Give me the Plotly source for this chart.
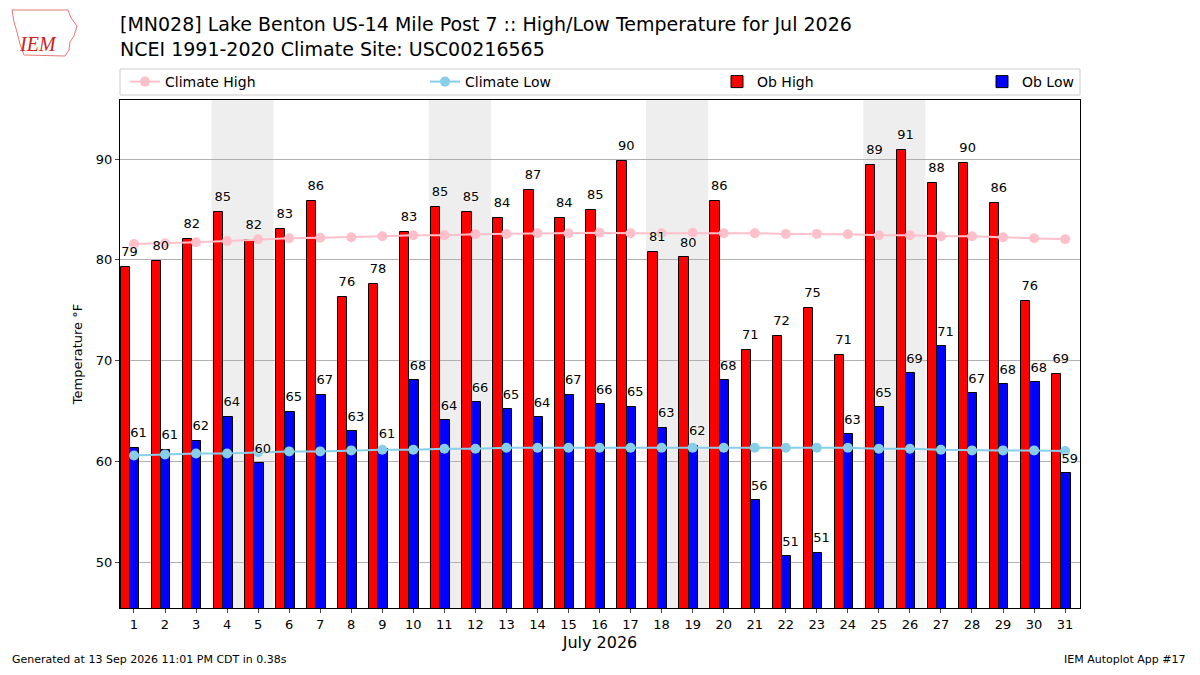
import datetime
import plotly.graph_objects as go

# day of month, July 2026
days = list(range(1, 32))

ob_high = [79.3, 79.9, 82.05, 84.75, 82.0, 83.1, 85.85, 76.35, 77.6, 82.75,
           85.25, 84.75, 84.15, 86.95, 84.15, 84.95, 89.8, 80.75, 80.25, 85.85,
           71.1, 72.45, 75.25, 70.56, 89.4, 90.9, 87.6, 89.6, 85.65, 75.95, 68.68]
ob_low = [61.4, 61.2, 62.1, 64.45, 59.85, 64.95, 66.66, 63.0, 61.3, 68.05,
          64.1, 65.87, 65.2, 64.4, 66.66, 65.7, 65.45, 63.37, 61.6, 68.1,
          56.17, 50.62, 51.0, 62.7, 65.4, 68.78, 71.45, 66.8, 67.7, 67.9, 58.84]
clim_high = [81.58, 81.65, 81.75, 81.88, 82.05, 82.15, 82.2, 82.25, 82.35, 82.45,
             82.45, 82.55, 82.58, 82.65, 82.65, 82.7, 82.65, 82.65, 82.7, 82.65,
             82.65, 82.58, 82.58, 82.55, 82.45, 82.45, 82.35, 82.35, 82.25, 82.15, 82.05]
clim_low = [60.62, 60.72, 60.82, 60.82, 60.95, 61.02, 61.02, 61.12, 61.18, 61.18,
            61.28, 61.28, 61.38, 61.38, 61.38, 61.38, 61.38, 61.38, 61.38, 61.38,
            61.38, 61.38, 61.38, 61.38, 61.28, 61.28, 61.18, 61.12, 61.12, 61.12, 61.05]

FONT = "DejaVu Sans"
label_font = dict(family=FONT, size=13, color="black",
                  shadow="0px 0px 2px white, 0px 0px 2px white")

# the page puts an 8px body margin round the figure, so the figure is sized
# 1184x659 and everything is placed relative to that
W, H = 1184, 659
L, R, T, B = 112, 112, 92, 59
PW, PH = W - L - R, H - T - B


def px(x):
    return (x - L) / PW


def py(y):
    return (H - B - y) / PH


fig = go.Figure()

# Ob High / Ob Low bars
fig.add_trace(go.Bar(
    x=[d - 0.275 for d in days], y=ob_high, width=0.3, name="Ob High",
    marker=dict(color="red", line=dict(color="black", width=1)),
    legend="legend3",
))
fig.add_trace(go.Bar(
    x=[d + 0.025 for d in days], y=ob_low, width=0.3, name="Ob Low",
    marker=dict(color="blue", line=dict(color="black", width=1)),
    legend="legend4",
))

# climatology lines
fig.add_trace(go.Scatter(
    x=days, y=clim_high, mode="lines+markers", name="Climate High",
    line=dict(color="pink", width=2), marker=dict(color="pink", size=10),
    legend="legend",
))
fig.add_trace(go.Scatter(
    x=days, y=clim_low, mode="lines+markers", name="Climate Low",
    line=dict(color="skyblue", width=2), marker=dict(color="skyblue", size=10),
    legend="legend2",
))

# value labels above the bars
fig.add_trace(go.Scatter(
    x=[d - 0.14 for d in days], y=[v + 1.4 for v in ob_high], mode="text",
    text=[f"{v:.0f}" for v in ob_high], textposition="middle center",
    textfont=label_font, showlegend=False, hoverinfo="skip", cliponaxis=False,
))
fig.add_trace(go.Scatter(
    x=[d + 0.15 for d in days], y=[v + 1.35 for v in ob_low], mode="text",
    text=[f"{v:.0f}" for v in ob_low], textposition="middle center",
    textfont=label_font, showlegend=False, hoverinfo="skip", cliponaxis=False,
))

# shade the weekends
for d in days:
    if datetime.date(2026, 7, d).weekday() == 5:
        fig.add_vrect(x0=d - 0.5, x1=d + 1.5, fillcolor="#eeeeee",
                      line_width=0, layer="below")

# legend frame
fig.add_shape(type="rect", xref="paper", yref="paper",
              x0=0, x1=1, y0=py(87), y1=py(61),
              line=dict(color="#cccccc", width=1), fillcolor="rgba(0,0,0,0)")


def legend_at(x):
    return dict(orientation="h", x=px(x), xanchor="left", y=py(74),
                yanchor="middle", font=dict(family=FONT, size=14),
                bgcolor="rgba(0,0,0,0)", itemclick=False)


fig.update_layout(
    width=W, height=H,
    margin=dict(l=L, r=R, t=T, b=B),
    paper_bgcolor="white", plot_bgcolor="white",
    font=dict(family=FONT, size=13, color="black"),
    barmode="overlay", bargap=0, showlegend=True,
    legend=legend_at(117), legend2=legend_at(417),
    legend3=legend_at(709), legend4=legend_at(974),
    xaxis=dict(
        range=[0.55, 31.48], tickmode="array", tickvals=days,
        ticktext=[str(d) for d in days], ticks="outside", ticklen=4,
        showgrid=False, showline=True, linecolor="black", mirror=True,
        zeroline=False, tickfont=dict(size=13),
        title=dict(text="July 2026", font=dict(size=16), standoff=6),
    ),
    yaxis=dict(
        range=[45.5, 95.85], tickvals=[50, 60, 70, 80, 90], ticks="outside",
        ticklen=4, showgrid=True, gridcolor="#b0b0b0", gridwidth=1,
        showline=True, linecolor="black", mirror=True, zeroline=False,
        tickfont=dict(size=13),
        title=dict(text="Temperature °F", font=dict(size=13), standoff=10),
    ),
)

# title
fig.add_annotation(
    text="[MN028] Lake Benton US-14 Mile Post 7 :: High/Low Temperature for Jul 2026"
         "<br>NCEI 1991-2020 Climate Site: USC00216565",
    xref="paper", yref="paper", x=px(110), y=py(54), xanchor="left",
    yanchor="bottom", align="left", showarrow=False,
    font=dict(family=FONT, size=19),
)

# logo stand-in: state outline and IEM letters
outline = [(4, 2), (60, 2), (63, 10), (69, 18), (66, 28), (62, 34), (61, 42),
           (57, 48), (16, 47), (12, 36), (9, 24), (6, 14)]
path = "M " + " L ".join(f"{px(x):.4f},{py(y):.4f}" for x, y in outline) + " Z"
fig.add_shape(type="path", xref="paper", yref="paper", path=path,
              line=dict(color="#e87878", width=1))
fig.add_annotation(text="<i>IEM</i>", xref="paper", yref="paper",
                   x=px(30), y=py(36), xanchor="center", yanchor="middle",
                   showarrow=False,
                   font=dict(family="Liberation Serif", size=20, color="#d02020"))

# footer
fig.add_annotation(text="Generated at 13 Sep 2026 11:01 PM CDT in 0.38s",
                   xref="paper", yref="paper", x=px(2), y=py(651),
                   xanchor="left", yanchor="middle", showarrow=False,
                   font=dict(size=11))
fig.add_annotation(text="IEM Autoplot App #17",
                   xref="paper", yref="paper", x=px(1180), y=py(651),
                   xanchor="right", yanchor="middle", showarrow=False,
                   font=dict(size=11))

fig.write_html("out.html")
